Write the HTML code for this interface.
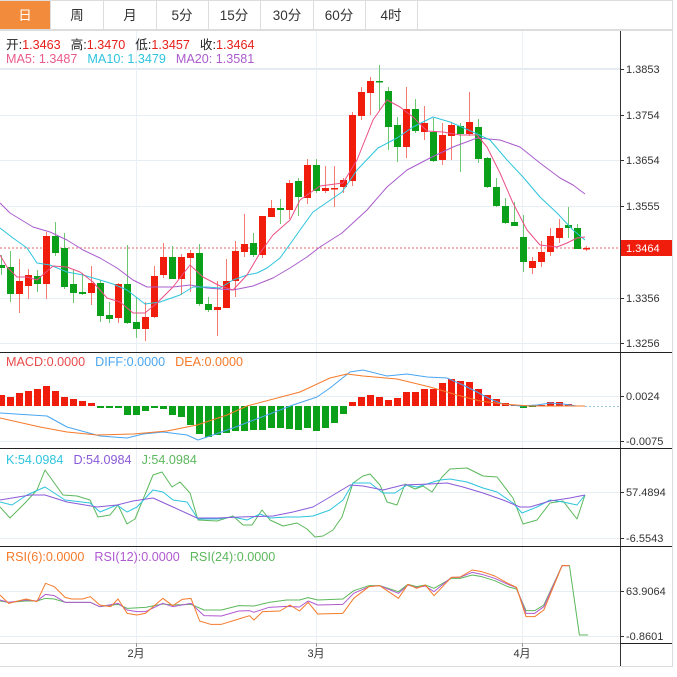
<!DOCTYPE html>
<html><head><meta charset="utf-8">
<style>
html,body{margin:0;padding:0;background:#fff;width:677px;height:677px;overflow:hidden}
svg{display:block}
text{font-family:"Liberation Sans","Noto Sans CJK SC",sans-serif}
</style></head><body>
<svg id="s" width="677" height="677" xmlns="http://www.w3.org/2000/svg">
<rect x="0" y="0" width="672" height="30" fill="#fff"/>
<rect x="0" y="0" width="50" height="30" fill="#f28c3c"/>
<line x1="0" y1="0.5" x2="672" y2="0.5" stroke="#ddd"/>
<line x1="0" y1="29.5" x2="672" y2="29.5" stroke="#ddd"/>
<g stroke="#ddd"><line x1="50.5" y1="0" x2="50.5" y2="30"/><line x1="103.5" y1="0" x2="103.5" y2="30"/><line x1="156.5" y1="0" x2="156.5" y2="30"/><line x1="208.5" y1="0" x2="208.5" y2="30"/><line x1="260.5" y1="0" x2="260.5" y2="30"/><line x1="313.5" y1="0" x2="313.5" y2="30"/><line x1="365.5" y1="0" x2="365.5" y2="30"/><line x1="417.5" y1="0" x2="417.5" y2="30"/></g>
<g font-size="13.5" text-anchor="middle" fill="#333">
<text x="25" y="20" fill="#fff">日</text><text x="77" y="20">周</text><text x="130" y="20">月</text><text x="182" y="20">5分</text><text x="234" y="20">15分</text><text x="287" y="20">30分</text><text x="339" y="20">60分</text><text x="391" y="20">4时</text>
</g>
<line x1="0" y1="68.5" x2="620" y2="68.5" stroke="#e3e8ee"/>
<g id="g"></g>
<g font-size="12.6">
<text x="6" y="49"><tspan fill="#222">开:</tspan><tspan fill="#e8201a">1.3463</tspan><tspan fill="#222" dx="10">高:</tspan><tspan fill="#e8201a">1.3470</tspan><tspan fill="#222" dx="10">低:</tspan><tspan fill="#e8201a">1.3457</tspan><tspan fill="#222" dx="10">收:</tspan><tspan fill="#e8201a">1.3464</tspan></text>
<text x="6" y="63"><tspan fill="#ea5a8c">MA5: 1.3487</tspan><tspan fill="#2ec4dc" dx="10">MA10: 1.3479</tspan><tspan fill="#a95ccc" dx="10">MA20: 1.3581</tspan></text>
<text x="6" y="366"><tspan fill="#ea4a4a">MACD:0.0000</tspan><tspan fill="#4aa6f0" dx="10">DIFF:0.0000</tspan><tspan fill="#f57a2a" dx="10">DEA:0.0000</tspan></text>
<text x="6" y="464"><tspan fill="#2ec4dc">K:54.0984</tspan><tspan fill="#8a5ad8" dx="10">D:54.0984</tspan><tspan fill="#5cb85c" dx="10">J:54.0984</tspan></text>
<text x="6" y="561"><tspan fill="#f57a2a">RSI(6):0.0000</tspan><tspan fill="#b05ad0" dx="10">RSI(12):0.0000</tspan><tspan fill="#5cb85c" dx="10">RSI(24):0.0000</tspan></text>
</g>
</svg>
<script>
var NS="http://www.w3.org/2000/svg",G=document.getElementById("g");
function el(t,a){var e=document.createElementNS(NS,t);for(var k in a)e.setAttribute(k,a[k]);G.appendChild(e);return e;}
function tx(x,y,s,a){var e=el("text",Object.assign({x:x,y:y,"font-size":11,fill:"#333"},a||{}));e.textContent=s;return e;}
[69,115,160,206,298,343,396,441,492,538,591,636].forEach(function(y){el("line",{x1:0,y1:y+.5,x2:620,y2:y+.5,stroke:"#e6edf3"});});
[136,316,522].forEach(function(x){el("line",{x1:x+.5,y1:30,x2:x+.5,y2:643,stroke:"#eaf0f5"});});
el("line",{x1:620.5,y1:30,x2:620.5,y2:667,stroke:"#333"});
el("line",{x1:672.5,y1:0,x2:672.5,y2:667,stroke:"#ddd"});
el("line",{x1:0,y1:30.5,x2:672,y2:30.5,stroke:"#ddd"});
el("line",{x1:0,y1:666.5,x2:672,y2:666.5,stroke:"#ddd"});
[352,448,546].forEach(function(y){el("line",{x1:0,y1:y+.5,x2:672,y2:y+.5,stroke:"#222"});});
el("line",{x1:0,y1:643.5,x2:620,y2:643.5,stroke:"#ccc"});el("line",{x1:620,y1:643.5,x2:672,y2:643.5,stroke:"#222"});
[[69,"1.3853"],[115,"1.3754"],[160,"1.3654"],[206,"1.3555"],[298,"1.3356"],[343,"1.3256"],[396,"0.0024"],[441,"-0.0075"],[492,"57.4894"],[538,"-6.5543"],[591,"63.9064"],[636,"-0.8601"]].forEach(function(a){el("line",{x1:620,y1:a[0]+.5,x2:624,y2:a[0]+.5,stroke:"#333"});tx(626,a[0]+4,a[1]);});
[[136,"2月"],[316,"3月"],[522,"4月"]].forEach(function(a){el("line",{x1:a[0]+.5,y1:643,x2:a[0]+.5,y2:647,stroke:"#999"});tx(a[0],657,a[1],{"text-anchor":"middle"});});
el("line",{x1:0,y1:248,x2:620,y2:248,stroke:"#f07070","stroke-dasharray":"2,2","stroke-width":1.5,opacity:.7});
el("rect",{x:621,y:240,width:51,height:16,fill:"#f01c0c"});
tx(626,252,"1.3464",{fill:"#fff"});
var C=[["g",265,268,255,275],["g",267,294,251,302],["r",281,294,259,313],["r",275,286,269,299],["g",276,284,270,292],["r",236,284,232,299],["g",236,253,222,256],["g",248,287,233,289],["g",284,293,270,303],["g",292,294,273,295],["r",283,293,266,305],["g",283,316,280,322],["g",315,319,302,323],["r",284,318,283,323],["g",284,323,245,324],["g",322,329,297,338],["r",317,329,302,341],["r",276,317,266,318],["r",257,275,243,278],["g",257,279,246,279],["r",257,279,254,295],["r",253,258,250,292],["g",253,304,244,306],["g",304,310,297,312],["r",307,310,281,336],["r",281,308,259,308],["r",251,281,241,297],["r",244,252,214,257],["g",243,255,233,257],["r",216,255,216,258],["r",208,217,200,217],["g",208,210,199,224],["r",183,210,180,219],["g",181,197,178,216],["r",165,198,159,204],["g",165,191,159,193],["r",188,191,166,193],["r",188,189,166,207],["r",180,187,178,193],["r",115,181,112,186],["r",92,116,87,120],["r",81,93,77,115],["g",81,82,65,110],["g",91,127,87,150],["g",125,147,117,162],["r",109,147,87,158],["g",109,131,99,133],["r",123,132,106,140],["g",132,161,118,162],["r",135,160,123,165],["r",125,136,122,160],["g",126,134,123,172],["r",122,134,92,136],["g",127,159,119,163],["g",158,187,157,188],["g",187,206,178,207],["g",206,223,198,224],["g",222,226,202,226],["g",237,262,215,272],["r",261,268,257,274],["r",252,262,241,267],["r",236,252,228,256],["r",228,238,219,243],["g",225,228,207,238],["g",228,249,224,249],["r",248,249,246,251]];
C.forEach(function(c,i){var x=1+9*i,col=c[0]=="r"?"#f01c0c":"#0aa01a",wc=c[0]=="r"?"#f57a72":"#6cc870";
el("line",{x1:x+.5,y1:c[3],x2:x+.5,y2:c[4],stroke:wc});
el("rect",{x:x-3,y:c[1],width:7,height:Math.max(1.5,c[2]-c[1]),fill:col});});
function pl(pts,col,w){el("polyline",{points:pts.map(function(p){return p.join(",")}).join(" "),fill:"none",stroke:col,"stroke-width":w||1,"stroke-linejoin":"round"});}
pl([[0,203],[10,213],[33,227],[50,232],[67,240],[83,250],[100,258],[117,268],[133,280],[147,287],[160,287],[173,287],[190,285],[207,288],[233,290],[253,286],[273,278],[290,268],[307,257],[320,247],[342,233],[367,210],[387,187],[407,170],[430,158],[453,147],[477,138],[500,140],[520,147],[540,163],[560,178],[573,185],[585,194]],"#a95ccc");
pl([[0,228],[13,238],[27,248],[37,263],[50,265],[67,272],[83,275],[100,280],[113,284],[127,290],[145,304],[160,302],[180,295],[193,287],[207,287],[220,288],[233,280],[247,275],[257,273],[267,268],[280,258],[293,240],[300,230],[313,212],[342,192],[357,170],[378,148],[397,138],[413,127],[433,117],[450,122],[473,132],[490,140],[507,160],[523,177],[540,197],[557,213],[573,230],[585,240]],"#2ec4dc");
pl([[0,255],[7,267],[17,277],[27,277],[37,280],[53,266],[67,267],[80,272],[93,282],[107,298],[120,302],[133,313],[145,313],[157,303],[173,287],[190,265],[203,277],[220,286],[233,290],[247,275],[260,253],[273,235],[290,220],[300,200],[320,186],[343,183],[357,160],[373,120],[387,100],[400,107],[413,117],[427,131],[443,132],[460,135],[477,135],[487,147],[500,173],[513,203],[527,230],[540,245],[557,247],[567,243],[577,238],[585,237]],"#ea4f86");
var H=[395,397,393,391,389,386,391,397,399,401,403,408,408,408,415,415,411,408,409,415,417,425,434,437,435,433,431,431,430,430,428,428,429,430,428,431,428,423,414,402,397,395,397,400,398,392,392,389,389,383,379,381,382,389,395,399,403,405,408,407,405,402,402,404,406,406];
H.forEach(function(v,i){var x=1+9*i;if(Math.abs(v-406)<1)return;var r=v<406;
el("rect",{x:x-3,y:Math.min(v,406),width:7,height:Math.abs(v-406),fill:r?"#f01c0c":"#0aa01a"});});
el("line",{x1:585,y1:406.5,x2:620,y2:406.5,stroke:"#9cc8e8","stroke-dasharray":"2,2"});
pl([[0,413],[47,416],[67,427],[100,436],[127,438],[143,434],[163,432],[187,435],[198,440],[213,435],[233,428],[267,415],[293,405],[317,397],[330,388],[350,372],[363,370],[387,376],[407,374],[427,377],[447,378],[463,385],[477,392],[490,399],[503,404],[520,406],[537,405],[550,403],[563,404],[577,406],[585,406]],"#4aa6f0");
pl([[0,418],[40,427],[67,432],[97,435],[133,434],[167,431],[197,425],[227,415],[247,406],[300,392],[330,378],[347,374],[363,376],[397,379],[430,387],[457,395],[480,401],[503,404],[530,406],[585,406]],"#f57a2a");
pl([[0,507],[10,518],[25,503],[37,490],[45,470],[63,495],[77,496],[90,500],[98,517],[110,515],[118,505],[127,524],[135,519],[153,475],[162,472],[172,487],[180,482],[190,493],[198,520],[217,521],[233,516],[243,525],[252,525],[262,510],[270,520],[283,526],[297,523],[307,529],[315,537],[323,536],[333,530],[342,517],[353,483],[363,476],[370,474],[380,485],[387,502],[397,505],[405,484],[415,489],[423,486],[432,492],[442,477],[450,469],[467,468],[483,476],[497,477],[513,498],[523,524],[537,520],[550,503],[563,501],[577,519],[585,495]],"#5cb85c");
pl([[0,502],[12,505],[27,495],[45,487],[65,500],[90,503],[100,512],[117,505],[127,512],[137,507],[153,490],[163,492],[173,500],[187,502],[198,519],[217,519],[233,517],[247,520],[260,514],[270,518],[287,517],[300,517],[313,516],[330,510],[343,500],[353,483],[370,483],[383,493],[395,493],[407,485],[417,487],[430,483],[440,480],[450,479],[467,482],[483,488],[497,492],[513,503],[522,513],[537,507],[550,500],[563,502],[577,505],[585,495]],"#2ec4dc");
pl([[0,500],[30,495],[45,495],[67,502],[97,507],[117,505],[133,501],[153,498],[173,507],[197,518],[217,518],[240,517],[273,516],[293,512],[313,507],[330,497],[350,485],[363,486],[383,490],[403,485],[430,484],[447,483],[463,487],[483,493],[503,500],[520,507],[530,507],[550,501],[570,498],[585,495]],"#8a5ad8");
function rs(a){return a.map(function(p){return [p[0]/2.304,545+p[1]/3];});}
pl(rs([[0,168],[20,172],[60,168],[85,168],[105,160],[125,162],[150,172],[208,172],[230,185],[272,178],[293,190],[335,187],[375,177],[398,180],[440,178],[470,195],[510,195],[550,182],[585,183],[620,172],[660,165],[690,165],[710,158],[732,165],[790,162],[815,137],[850,122],[875,122],[918,140],[940,118],[960,125],[980,120],[1000,130],[1040,100],[1060,100],[1088,90],[1110,95],[1140,107],[1170,125],[1190,132],[1212,197],[1232,197],[1253,180],[1295,62],[1312,62],[1335,270],[1355,270]]),"#5cb85c");
pl(rs([[0,165],[20,172],[60,165],[85,168],[105,148],[125,152],[150,172],[208,172],[230,185],[272,175],[293,195],[315,200],[335,200],[375,175],[398,185],[440,175],[470,212],[510,213],[550,198],[575,197],[585,202],[620,187],[660,184],[690,186],[710,168],[732,180],[790,178],[815,145],[850,125],[875,122],[918,145],[940,120],[960,128],[980,123],[1000,140],[1040,97],[1060,97],[1088,82],[1110,88],[1140,100],[1170,118],[1190,128],[1212,205],[1232,205],[1253,185],[1295,62],[1312,62]]),"#b05ad0");
pl(rs([[0,150],[20,175],[60,162],[85,170],[105,115],[125,125],[150,157],[165,162],[190,162],[208,155],[230,180],[255,185],[272,162],[293,205],[315,210],[335,205],[375,160],[398,182],[420,163],[440,160],[460,228],[485,238],[510,238],[550,222],[575,212],[585,225],[605,200],[645,198],[668,180],[690,198],[710,172],[732,207],[790,205],[815,160],[850,125],[875,122],[918,160],[940,118],[960,130],[980,120],[1000,152],[1040,97],[1060,96],[1088,75],[1110,80],[1140,93],[1170,115],[1190,127],[1212,215],[1232,215],[1253,195],[1295,62],[1312,62]]),"#f57a2a");
</script>
</body></html>
